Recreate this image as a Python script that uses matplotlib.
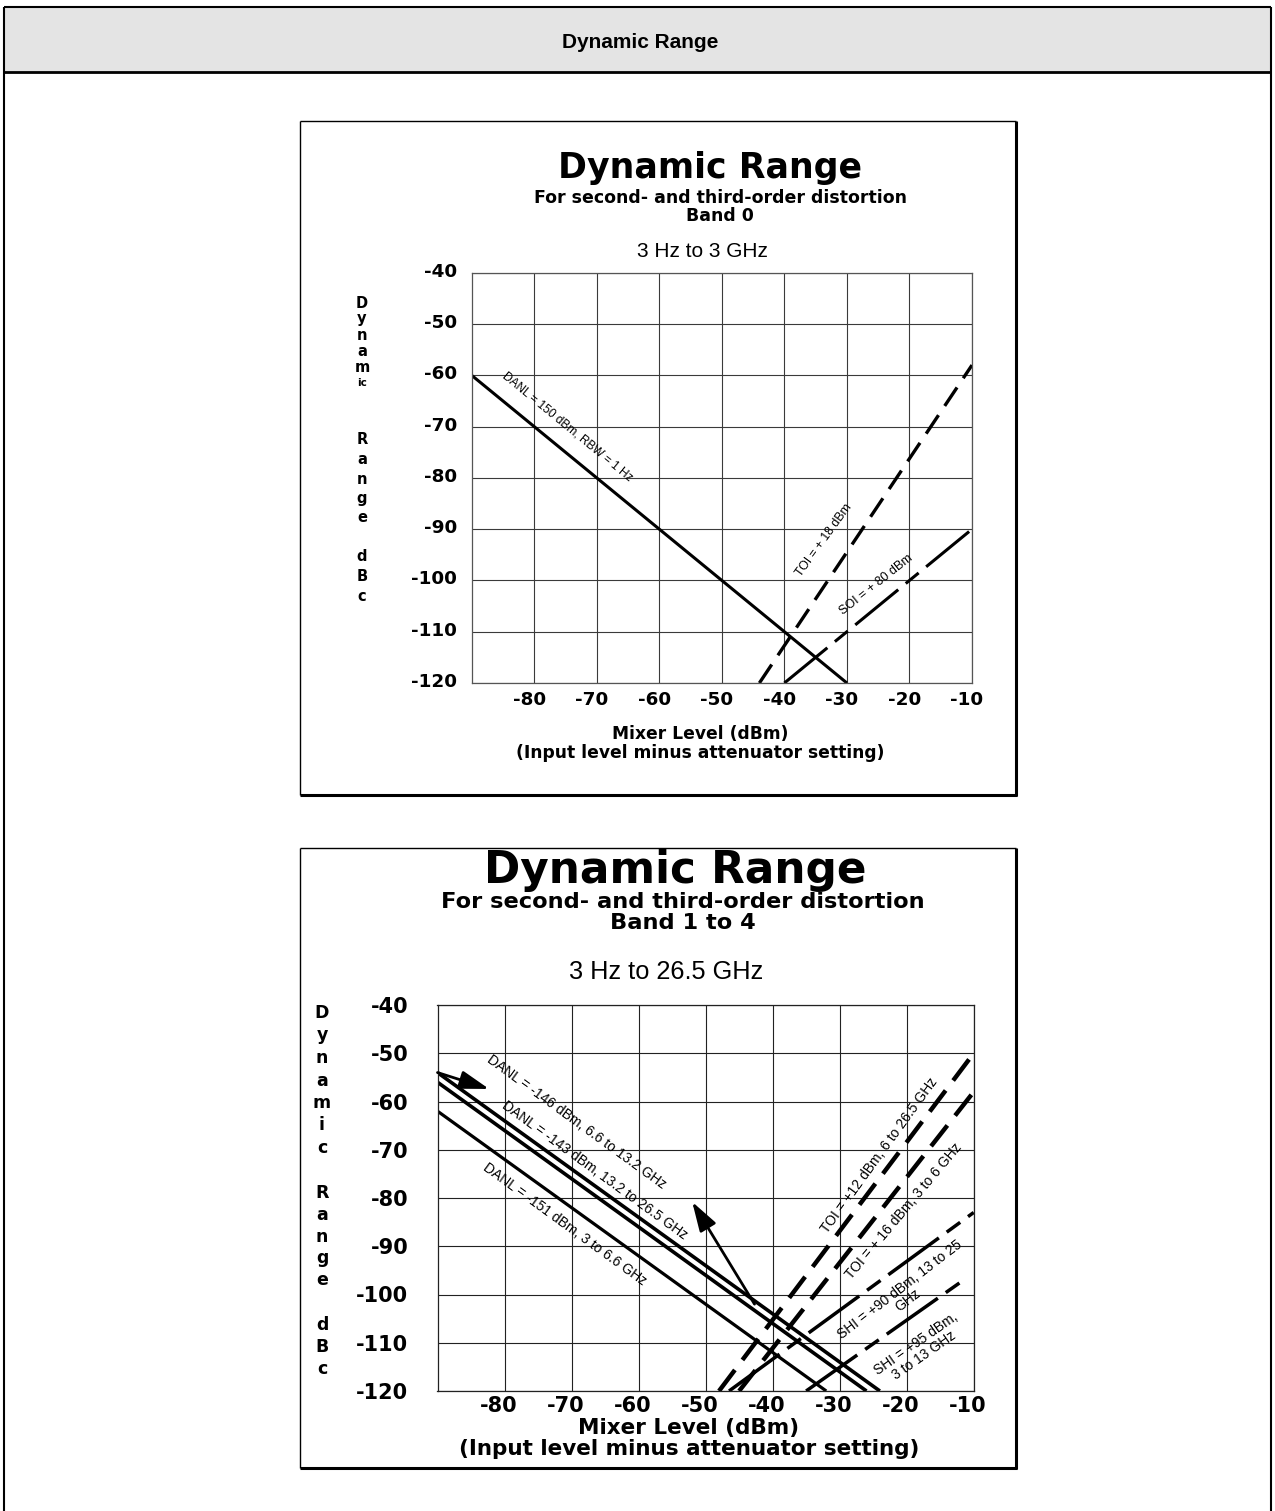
import matplotlib
matplotlib.use("Agg")
import matplotlib.pyplot as plt
from matplotlib.patches import Rectangle
from matplotlib.lines import Line2D
import matplotlib.transforms as mtransforms

plt.rcParams['lines.scale_dashes'] = False
plt.rcParams['font.family'] = ['DejaVu Sans']

# ---------------- data ----------------
x_ticks = [-80, -70, -60, -50, -40, -30, -20, -10]
y_ticks = [-40, -50, -60, -70, -80, -90, -100, -110, -120]
x_lim = (-90, -10)
y_lim = (-120, -40)

# Band 0 (3 Hz to 3 GHz)
b0_danl_x = [-90, -30]
b0_danl_y = [-60, -120]
b0_toi_x = [-44, -10]
b0_toi_y = [-120, -58]
b0_soi_x = [-40, -10]
b0_soi_y = [-120, -90]

# Band 1 to 4 (3 Hz to 26.5 GHz)
b14_danl143_x = [-90, -24]
b14_danl143_y = [-54, -120]
b14_danl146_x = [-90, -26]
b14_danl146_y = [-56, -120]
b14_danl151_x = [-90, -32]
b14_danl151_y = [-62, -120]
b14_toi12_x = [-48, -10]
b14_toi12_y = [-120, -50]
b14_toi16_x = [-45, -10]
b14_toi16_y = [-120, -58]
b14_shi90_x = [-46.5, -10]
b14_shi90_y = [-120, -83]
b14_shi95_x = [-35, -11.5]
b14_shi95_y = [-120, -97]

page_title = "Dynamic Range"
chart_title = "Dynamic Range"
chart_sub = "For second- and third-order distortion"
b0_band = "Band 0"
b0_range = "3 Hz to 3 GHz"
b14_band = "Band 1 to 4"
b14_range = "3 Hz to 26.5 GHz"
xlabel1 = "Mixer Level (dBm)"
xlabel2 = "(Input level minus attenuator setting)"
ylabel_words = [["D", "y", "n", "a", "m", "i", "c"], ["R", "a", "n", "g", "e"], ["d", "B", "c"]]

# ---------------- layout ----------------
W, H = 1275, 1511
DPI = 100
fig = plt.figure(figsize=(W / DPI, H / DPI), dpi=DPI)
fig.patch.set_facecolor('white')


def fx(x):
    return x / W


def fy(y):
    return 1 - y / H


def fline(x0, y0, x1, y1, lw, color='black'):
    fig.add_artist(Line2D([fx(x0), fx(x1)], [fy(y0), fy(y1)], transform=fig.transFigure,
                          color=color, lw=lw, solid_capstyle='butt'))


def ftext(x, y, s, **kw):
    fig.text(fx(x), fy(y), s, **kw)


# page frame + header
fig.add_artist(Rectangle((fx(4), fy(72)), fx(1271) - fx(4), fy(7) - fy(72),
                         transform=fig.transFigure, facecolor='#e4e4e4', edgecolor='none'))
fline(4, 7, 1271, 7, 1.5)
fline(4, 72, 1271, 72, 2.0)
fline(4, 7, 4, 1511, 1.5)
fline(1271, 7, 1271, 1511, 1.5)
ftext(640, 42, page_title, ha='center', va='center', fontsize=15, fontweight='bold',
      family=['Liberation Sans Narrow', 'Liberation Sans'])

# chart boxes
for (l, t, r, b) in [(300, 121, 1016, 795), (300, 848, 1016, 1468)]:
    fline(l, t, r, t, 1.0)
    fline(l, t, l, b, 1.0)
    fline(r, t, r, b + 1, 2.2)
    fline(l, b, r + 1, b, 2.2)


def add_axes_px(l, t, r, b):
    return fig.add_axes([l / W, 1 - b / H, (r - l) / W, (b - t) / H])


def style_axes(ax, fs, ypad, xpad, ydy, xdx, gcol, scol):
    ax.set_xlim(*x_lim)
    ax.set_ylim(*y_lim)
    ax.set_xticks(x_ticks)
    ax.set_yticks(y_ticks)
    ax.set_xticklabels([str(v) for v in x_ticks], fontweight='bold', fontsize=fs)
    ax.set_yticklabels([str(v) for v in y_ticks], fontweight='bold', fontsize=fs)
    ax.tick_params(axis='both', length=0)
    ax.tick_params(axis='y', pad=ypad)
    ax.tick_params(axis='x', pad=xpad)
    ax.grid(True, color=gcol, lw=0.8)
    ax.set_axisbelow(True)
    for s in ax.spines.values():
        s.set_color(scol)
        s.set_linewidth(0.9)
    offy = mtransforms.ScaledTranslation(0, ydy / DPI, fig.dpi_scale_trans)
    for lab in ax.yaxis.get_majorticklabels():
        lab.set_transform(lab.get_transform() + offy)
    offx = mtransforms.ScaledTranslation(xdx / DPI, 0, fig.dpi_scale_trans)
    for lab in ax.xaxis.get_majorticklabels():
        lab.set_transform(lab.get_transform() + offx)


ann_font = ['Liberation Sans', 'DejaVu Sans']

# ================= Top chart: Band 0 =================
ftext(710, 178, chart_title, ha='center', va='baseline', fontsize=25, fontweight='bold')
ftext(720, 203, chart_sub, ha='center', va='baseline', fontsize=12.5, fontweight='bold')
ftext(720, 221, b0_band, ha='center', va='baseline', fontsize=12.5, fontweight='bold')
ftext(702, 257, b0_range, ha='center', va='baseline', fontsize=15,
      family=['Liberation Sans Narrow', 'Liberation Sans'])
ftext(700, 739, xlabel1, ha='center', va='baseline', fontsize=12.3, fontweight='bold')
ftext(700, 758, xlabel2, ha='center', va='baseline', fontsize=12.3, fontweight='bold')

# vertical axis label (stacked letters)
top_y0 = [303, 440, 556]
top_step = [16, 19.5, 20.5]
for wi, word in enumerate(ylabel_words):
    letters = word if wi > 0 else word[:5] + ["".join(word[5:])]
    for li, ch in enumerate(letters):
        small = (ch == "ic")
        ftext(362, top_y0[wi] + top_step[wi] * li, ch, ha='center', va='center',
              fontsize=7.5 if small else 10.5, fontweight='bold')

ax1 = add_axes_px(471.7, 272.8, 972, 683)
style_axes(ax1, 13.2, 10.5, 6, 3, -5, '#3a3a3a', '#555555')
ax1.plot(b0_danl_x, b0_danl_y, color='black', lw=2.2, solid_capstyle='butt')
ax1.plot(b0_toi_x, b0_toi_y, color='black', lw=2.4, dashes=(16, 8), dash_capstyle='butt')
ax1.plot(b0_soi_x, b0_soi_y, color='black', lw=2.2, dashes=(40, 7, 12, 7), dash_capstyle='butt')
ax1.text(-74.7, -70.1, "DANL = 150 dBm, RBW = 1 Hz", rotation=-39.4, rotation_mode='anchor',
         ha='center', va='center', fontsize=8.6, family=ann_font)
ax1.text(-33.6, -92.1, "TOI = + 18 dBm", rotation=54, rotation_mode='anchor',
         ha='center', va='center', fontsize=8.8, family=ann_font)
ax1.text(-25.3, -100.9, "SOI = + 80 dBm", rotation=38.5, rotation_mode='anchor',
         ha='center', va='center', fontsize=9.0, family=ann_font)

# ================= Bottom chart: Band 1 to 4 =================
ftext(675, 883, chart_title, ha='center', va='baseline', fontsize=31.5, fontweight='bold')
ftext(683, 908, chart_sub, ha='center', va='baseline', fontsize=16.2, fontweight='bold')
ftext(683, 929, b14_band, ha='center', va='baseline', fontsize=16.2, fontweight='bold')
ftext(666, 979, b14_range, ha='center', va='baseline', fontsize=18.3,
      family=['Liberation Sans', 'DejaVu Sans'])
ftext(689, 1434, xlabel1, ha='center', va='baseline', fontsize=15.5, fontweight='bold')
ftext(689, 1455, xlabel2, ha='center', va='baseline', fontsize=15.5, fontweight='bold')

bot_y0 = [1013, 1193, 1325]
bot_step = [22.5, 21.75, 22]
for wi, word in enumerate(ylabel_words):
    for li, ch in enumerate(word):
        ftext(322, bot_y0[wi] + bot_step[wi] * li, ch, ha='center', va='center',
              fontsize=12.5, fontweight='bold')

ax2 = add_axes_px(437.5, 1005, 973.7, 1391)
style_axes(ax2, 15.0, 21, 3.5, 0, -6, '#222222', '#222222')
ax2.plot(b14_danl143_x, b14_danl143_y, color='black', lw=2.6, solid_capstyle='butt')
ax2.plot(b14_danl146_x, b14_danl146_y, color='black', lw=2.6, solid_capstyle='butt')
ax2.plot(b14_danl151_x, b14_danl151_y, color='black', lw=2.3, solid_capstyle='butt')
ax2.plot(b14_toi12_x, b14_toi12_y, color='black', lw=3.2, dashes=(19, 9), dash_capstyle='butt')
ax2.plot(b14_toi16_x, b14_toi16_y, color='black', lw=3.2, dashes=(19, 9), dash_capstyle='butt')
ax2.plot(b14_shi90_x, b14_shi90_y, color='black', lw=2.5, dashes=(45, 7, 12, 7), dash_capstyle='butt')
ax2.plot(b14_shi95_x, b14_shi95_y, color='black', lw=2.5, dashes=(45, 7, 12, 7), dash_capstyle='butt')

ax2.text(-69.2, -64.2, "DANL = -146 dBm, 6.6 to 13.2 GHz", rotation=-36, rotation_mode='anchor',
         ha='center', va='center', fontsize=10, family=ann_font)
ax2.text(-66.5, -74.2, "DANL = -143 dBm, 13.2 to 26.5 GHz", rotation=-36, rotation_mode='anchor',
         ha='center', va='center', fontsize=10, family=ann_font)
ax2.text(-71.0, -85.5, "DANL = -151 dBm, 3 to 6.6 GHz", rotation=-36, rotation_mode='anchor',
         ha='center', va='center', fontsize=10, family=ann_font)
ax2.text(-24.0, -71.1, "TOI = +12 dBm, 6 to 26.5 GHz", rotation=54, rotation_mode='anchor',
         ha='center', va='center', fontsize=10, family=ann_font)
ax2.text(-20.4, -82.8, "TOI = + 16 dBm, 3 to 6 GHz", rotation=50, rotation_mode='anchor',
         ha='center', va='center', fontsize=10, family=ann_font)
ax2.text(-20.4, -100.1, "SHI = +90 dBm, 13 to 25\nGHz", rotation=37.6, rotation_mode='anchor',
         ha='center', va='center', fontsize=10, family=ann_font, multialignment='center',
         linespacing=0.95)
ax2.text(-18.0, -111.4, "SHI = +95 dBm,\n3 to 13 GHz", rotation=35, rotation_mode='anchor',
         ha='center', va='center', fontsize=10, family=ann_font, multialignment='center',
         linespacing=0.95)

arrow_kw = dict(arrowstyle='-|>,head_length=0.9,head_width=0.28', color='black', lw=2.0,
                shrinkA=0, shrinkB=0, mutation_scale=20)
ax2.annotate('', xy=(-82.3, -57.4), xytext=(-90, -54), arrowprops=arrow_kw)
ax2.annotate('', xy=(-52.0, -80.8), xytext=(-42.7, -102.0), arrowprops=arrow_kw)

fig.savefig('out.png', dpi=DPI, facecolor='white')
